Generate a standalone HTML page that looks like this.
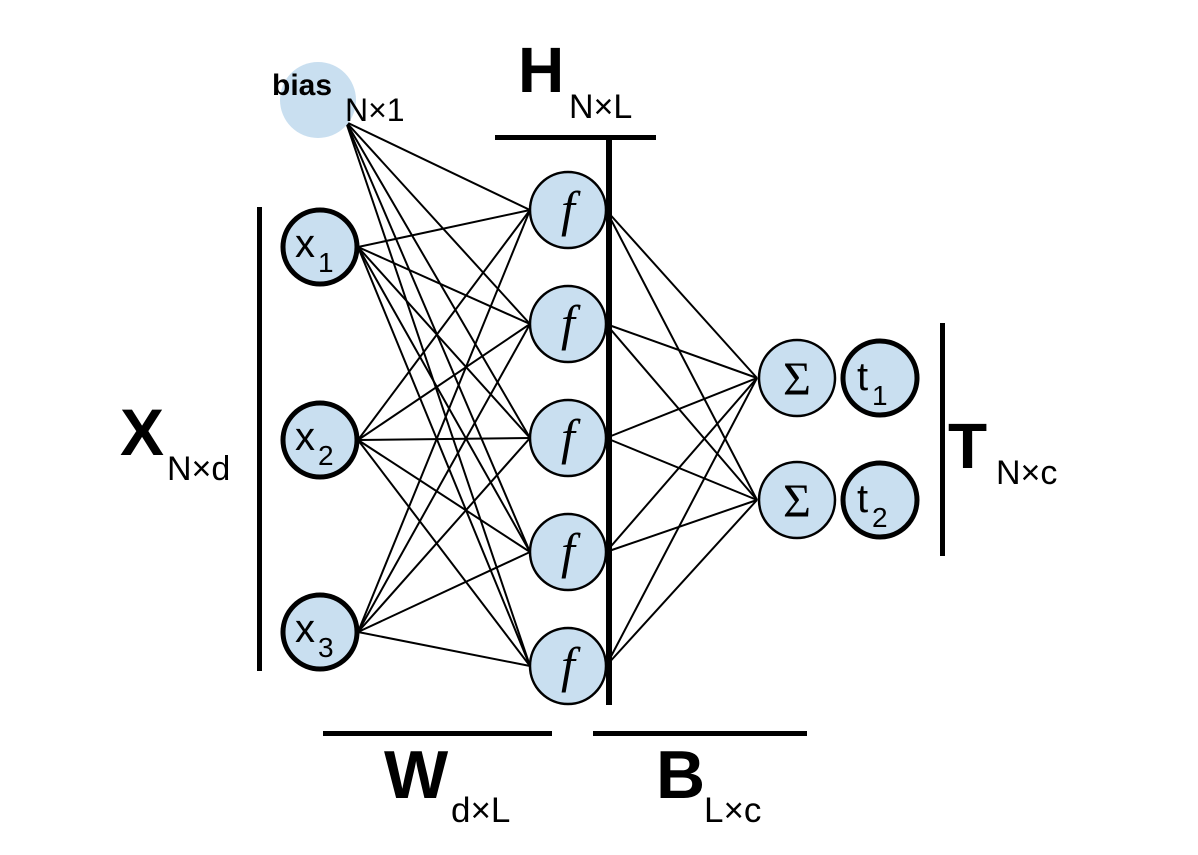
<!DOCTYPE html>
<html><head><meta charset="utf-8"><style>
body{margin:0;background:#fff}
svg{display:block}
text{font-family:"Liberation Sans",sans-serif;fill:#000}
</style></head><body>
<svg width="1198" height="855" viewBox="0 0 1198 855" xmlns="http://www.w3.org/2000/svg">
<g stroke="#000" stroke-width="2" fill="none">
<!-- bias lines -->
<line x1="346" y1="122" x2="530" y2="210"/>
<line x1="346" y1="122" x2="530" y2="324"/>
<line x1="346" y1="122" x2="530" y2="438"/>
<line x1="346" y1="122" x2="530" y2="552"/>
<line x1="346" y1="122" x2="530" y2="666"/>
<!-- x to f -->
<g>
<line x1="358" y1="247" x2="530" y2="210"/><line x1="358" y1="247" x2="530" y2="324"/><line x1="358" y1="247" x2="530" y2="438"/><line x1="358" y1="247" x2="530" y2="552"/><line x1="358" y1="247" x2="530" y2="666"/>
<line x1="358" y1="440" x2="530" y2="210"/><line x1="358" y1="440" x2="530" y2="324"/><line x1="358" y1="440" x2="530" y2="438"/><line x1="358" y1="440" x2="530" y2="552"/><line x1="358" y1="440" x2="530" y2="666"/>
<line x1="358" y1="632" x2="530" y2="210"/><line x1="358" y1="632" x2="530" y2="324"/><line x1="358" y1="632" x2="530" y2="438"/><line x1="358" y1="632" x2="530" y2="552"/><line x1="358" y1="632" x2="530" y2="666"/>
</g>
<!-- f to sigma -->
<line x1="606" y1="210" x2="757" y2="378"/><line x1="606" y1="210" x2="757" y2="500"/>
<line x1="606" y1="324" x2="757" y2="378"/><line x1="606" y1="324" x2="757" y2="500"/>
<line x1="606" y1="438" x2="757" y2="378"/><line x1="606" y1="438" x2="757" y2="500"/>
<line x1="606" y1="552" x2="757" y2="378"/><line x1="606" y1="552" x2="757" y2="500"/>
<line x1="606" y1="666" x2="757" y2="378"/><line x1="606" y1="666" x2="757" y2="500"/>
</g>
<circle cx="318" cy="100" r="38" fill="#c9dff0"/>
<g fill="#c9dff0" stroke="#000" stroke-width="5">
<circle cx="320" cy="247" r="37"/><circle cx="320" cy="440" r="37"/><circle cx="320" cy="632" r="37"/>
<circle cx="880" cy="378" r="37"/><circle cx="880" cy="500" r="37"/>
</g>
<g fill="#c9dff0" stroke="#000" stroke-width="2.5">
<circle cx="568" cy="210" r="38"/><circle cx="568" cy="324" r="38"/><circle cx="568" cy="438" r="38"/><circle cx="568" cy="552" r="38"/><circle cx="568" cy="666" r="38"/>
<circle cx="797" cy="378" r="38"/><circle cx="797" cy="500" r="38"/>
</g>
<!-- bars -->
<g fill="#000">
<rect x="257" y="207" width="5" height="464"/>
<rect x="495" y="135" width="161" height="5"/>
<rect x="606" y="137" width="6" height="568"/>
<rect x="940" y="323" width="5" height="233"/>
<rect x="323" y="731" width="229" height="5"/>
<rect x="593" y="731" width="214" height="5"/>
</g>
<!-- node labels -->
<g font-size="40">
<text x="295" y="257">x</text><text x="318" y="272" font-size="28">1</text>
<text x="295" y="450">x</text><text x="318" y="465" font-size="28">2</text>
<text x="295" y="642">x</text><text x="318" y="657" font-size="28">3</text>
<text x="857" y="390">t</text><text x="872" y="405" font-size="28">1</text>
<text x="857" y="512">t</text><text x="872" y="527" font-size="28">2</text>
</g>
<g font-family="Liberation Serif,serif" font-style="italic" font-size="50">
<text x="568" y="226" text-anchor="middle" style="font-family:'Liberation Serif',serif">f</text>
<text x="568" y="340" text-anchor="middle" style="font-family:'Liberation Serif',serif">f</text>
<text x="568" y="454" text-anchor="middle" style="font-family:'Liberation Serif',serif">f</text>
<text x="568" y="568" text-anchor="middle" style="font-family:'Liberation Serif',serif">f</text>
<text x="568" y="682" text-anchor="middle" style="font-family:'Liberation Serif',serif">f</text>
</g>
<g font-size="48">
<text x="797" y="395" text-anchor="middle" style="font-family:'Liberation Serif',serif">Σ</text>
<text x="797" y="517" text-anchor="middle" style="font-family:'Liberation Serif',serif">Σ</text>
</g>
<!-- matrix labels -->
<text x="272" y="95" font-size="30" font-weight="bold">bias</text>
<text x="345" y="121" font-size="32">N×1</text>
<text x="518" y="92" font-size="64" font-weight="bold">H</text>
<text x="569" y="118" font-size="34">N×L</text>
<text x="120" y="455" font-size="66" font-weight="bold">X</text>
<text x="167" y="480" font-size="34">N×d</text>
<text x="948" y="468" font-size="64" font-weight="bold">T</text>
<text x="996" y="484" font-size="34">N×c</text>
<text x="384" y="798" font-size="68" font-weight="bold">W</text>
<text x="451" y="822" font-size="35">d×L</text>
<text x="656" y="798" font-size="68" font-weight="bold">B</text>
<text x="704" y="822" font-size="35">L×c</text>
</svg>
</body></html>
